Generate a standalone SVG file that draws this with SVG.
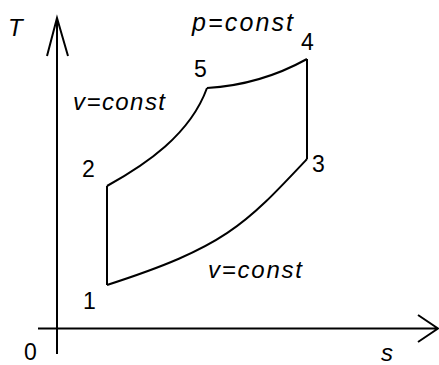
<svg xmlns="http://www.w3.org/2000/svg" width="439" height="365" viewBox="0 0 439 365">
<style>
.ln{fill:none;stroke:#000;stroke-width:2;stroke-linejoin:miter;stroke-linecap:butt}
.lab{font-family:"Liberation Sans",Arial,sans-serif;fill:#000}
.it{font-style:italic}
</style>
<rect width="439" height="365" fill="#fff"/>
<g id="connectors">
<path id="axis-T" class="ln" d="M57,354 V18 M47,56 L57,18 L68,56"/>
<path id="axis-s" class="ln" d="M38,328.5 H438 M418,315 L438,328.5 L418,342"/>
<path id="p1-2" class="ln" d="M107,285 V186"/>
<path id="p2-5" class="ln" d="M107,186 C145,165 190,135 207,88"/>
<path id="p5-4" class="ln" d="M207,88 Q260,85 307,59"/>
<path id="p4-3" class="ln" d="M307,59 V159"/>
<path id="p3-1" class="ln" d="M307,159 C245,225 225,247 107,285"/>
</g>
<g id="label-T"><text class="lab it" x="8" y="36" font-size="24">T</text></g>
<g id="label-s"><text class="lab it" x="381" y="361" font-size="24">s</text></g>
<g id="label-0"><text class="lab" x="24" y="360" font-size="23">0</text></g>
<g id="node-1"><text class="lab" x="83" y="309" font-size="23">1</text></g>
<g id="node-2"><text class="lab" x="82" y="177" font-size="23">2</text></g>
<g id="node-3"><text class="lab" x="312" y="172" font-size="23">3</text></g>
<g id="node-4"><text class="lab" x="301" y="50" font-size="23">4</text></g>
<g id="node-5"><text class="lab" x="194" y="77" font-size="23">5</text></g>
<g id="label-p"><text class="lab it" x="192" y="31" font-size="25" textLength="101" lengthAdjust="spacing">p=const</text></g>
<g id="label-v1"><text class="lab it" x="73" y="110" font-size="24" textLength="92" lengthAdjust="spacing">v=const</text></g>
<g id="label-v2"><text class="lab it" x="208" y="278" font-size="24" textLength="94" lengthAdjust="spacing">v=const</text></g>
</svg>
